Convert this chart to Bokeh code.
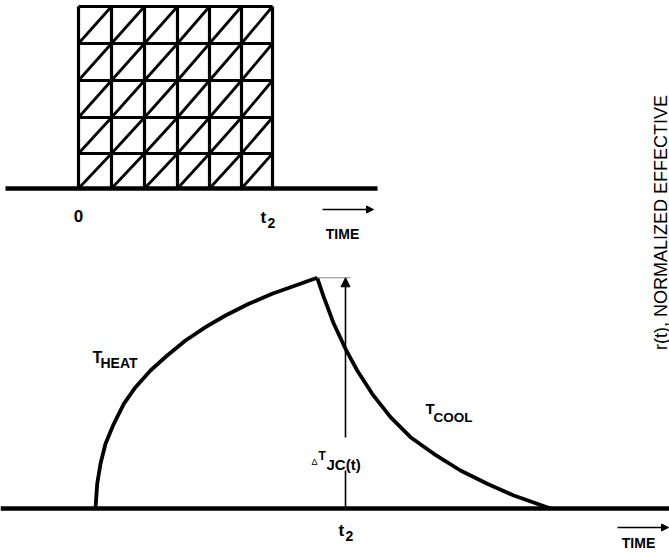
import math
from bokeh.plotting import figure
from bokeh.models import Range1d, Arrow, NormalHead
from bokeh.core.properties import value
from bokeh.embed import file_html
from bokeh.resources import INLINE

# ---------------- data (diagram units) ----------------
# top panel: rectangular power pulse from 0 to t2, drawn as a hatched grid
pulse_cols = [78, 111, 144, 177, 209, 241, 272]
pulse_rows = [6, 43, 80, 117, 153, 188]
top_axis_x = [5, 377]
top_axis_y = 188

# bottom panel: junction temperature response (heating, then cooling after t2)
heat_x = [95, 96.7, 100, 105, 113.3, 123.3, 135, 150, 166.7, 185, 205, 225, 248.3, 271.7, 295, 316.7]
heat_y = [508, 483.3, 463.3, 443.3, 423.3, 403.3, 386.7, 370, 355, 340, 326.7, 315, 303.3, 293.3, 285, 277.3]
cool_x = [316.7, 323.3, 333.3, 345, 356.7, 371.7, 390, 410, 433.3, 460, 486.7, 513.3, 536.7, 550]
cool_y = [277.3, 296.7, 323.3, 348.3, 370, 393.3, 416.7, 436.7, 453.3, 470, 483.3, 495, 503.3, 508]
bottom_axis_x = [0, 669]
bottom_axis_y = 508
t2_bottom = 345
label_gap = [437, 470]

FONT = "Liberation Sans"

p = figure(width=669, height=552, output_backend="svg", toolbar_location=None,
           x_range=Range1d(0, 669), y_range=Range1d(552, 0),
           min_border=0, outline_line_color=None)
p.axis.visible = False
p.grid.visible = False
p.background_fill_color = "white"
p.border_fill_color = "white"

# ---- top panel grid ----
vy0 = [pulse_rows[0]] * len(pulse_cols)
vy1 = [pulse_rows[-1]] * len(pulse_cols)
p.segment(x0=pulse_cols, y0=vy0, x1=pulse_cols, y1=vy1, line_color="black", line_width=3.2)
hx0 = [pulse_cols[0]] * len(pulse_rows)
hx1 = [pulse_cols[-1]] * len(pulse_rows)
p.segment(x0=hx0, y0=pulse_rows, x1=hx1, y1=pulse_rows, line_color="black", line_width=3.2)
dx0, dy0, dx1, dy1 = [], [], [], []
for i in range(len(pulse_cols) - 1):
    for j in range(len(pulse_rows) - 1):
        dx0.append(pulse_cols[i]); dy0.append(pulse_rows[j + 1])
        dx1.append(pulse_cols[i + 1]); dy1.append(pulse_rows[j])
p.segment(x0=dx0, y0=dy0, x1=dx1, y1=dy1, line_color="black", line_width=2.8)
p.line(x=top_axis_x, y=[top_axis_y] * 2, line_color="black", line_width=4.5)

# ---- bottom panel ----
p.line(x=bottom_axis_x, y=[bottom_axis_y] * 2, line_color="black", line_width=4.5)
p.line(x=heat_x, y=heat_y, line_color="black", line_width=3.8, line_join="round")
p.line(x=cool_x, y=cool_y, line_color="black", line_width=3.8, line_join="round")
peak_y = heat_y[-1]
p.line(x=[heat_x[-1], t2_bottom + 5], y=[peak_y, peak_y], line_color="#888888", line_width=1)
p.line(x=[t2_bottom, t2_bottom], y=[bottom_axis_y, label_gap[1]], line_color="black", line_width=1.6)
p.add_layout(Arrow(end=NormalHead(size=9, line_color="black", fill_color="black", line_width=1),
                   x_start=t2_bottom, y_start=label_gap[0], x_end=t2_bottom, y_end=peak_y,
                   line_color="black", line_width=1.6))

# TIME arrows
p.add_layout(Arrow(end=NormalHead(size=7, line_color="black", fill_color="black", line_width=1),
                   x_start=322, y_start=209, x_end=373, y_end=209, line_color="black", line_width=1.5))
p.add_layout(Arrow(end=NormalHead(size=7, line_color="black", fill_color="black", line_width=1),
                   x_start=617, y_start=527, x_end=668, y_end=527, line_color="black", line_width=1.5))

# ---- labels ----
def txt(x, y, s, size, style="bold", align="left", baseline="alphabetic", angle=0.0, font=FONT):
    p.text(x=[x], y=[y], text=[s], text_font=value(font), text_font_size=f"{size}px",
           text_font_style=style, text_align=align, text_baseline=baseline,
           angle=angle, text_color="black")

txt(78, 215, "0", 17, align="center")
txt(260, 217, "t", 17)
txt(267, 222, "2", 14)
txt(342, 233, "TIME", 14, align="center")

txt(92, 357, "T", 16)
txt(100, 362, "HEAT", 14)
txt(425, 408, "T", 15)
txt(433, 417, "COOL", 13.5)
txt(311, 461, "\u0394", 9, style="normal")
txt(318, 455, "T", 12)
txt(326, 464, "JC(t)", 15)
txt(338, 530, "t", 17)
txt(345, 535, "2", 14)
txt(638, 542, "TIME", 14, align="center")

txt(660, 222, "r(t), NORMALIZED EFFECTIVE", 18, style="normal", align="center",
    baseline="middle", angle=math.pi / 2)

open("out.html", "w").write(file_html(p, INLINE))
